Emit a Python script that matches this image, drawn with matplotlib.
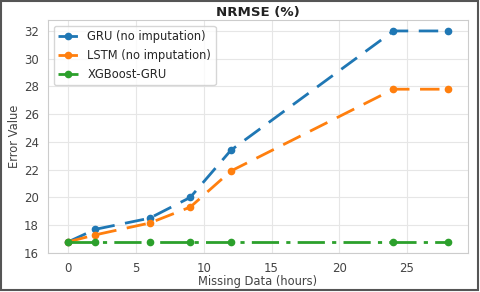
import matplotlib
matplotlib.use("Agg")
import matplotlib.pyplot as plt
import seaborn as sns

# ── Data ──────────────────────────────────────────────────────────────────────
missing_hours = [0, 2, 6, 9, 12, 24, 28]
gru_nrmse     = [16.8, 17.7, 18.5, 20.0, 23.4, 32.0, 32.0]
lstm_nrmse    = [16.8, 17.3, 18.15, 19.3, 21.9, 27.8, 27.8]
xgb_gru_nrmse = [16.8, 16.8, 16.8, 16.8, 16.8, 16.8, 16.8]
y_ticks       = [16, 18, 20, 22, 24, 26, 28, 30, 32]

sns.set_style("whitegrid")
plt.rcParams["font.family"] = ["DejaVu Sans"]

fig, ax = plt.subplots(figsize=(4.8, 2.92), dpi=100)
fig.subplots_adjust(left=0.1, right=0.975, top=0.932, bottom=0.134)

ax.plot(missing_hours, gru_nrmse, marker="o", color="#1f77b4",
        lw=2.0, ms=4.5, dashes=(7.0, 3.8), label="GRU (no imputation)")
ax.plot(missing_hours, lstm_nrmse, marker="o", color="#ff7f0e",
        lw=2.0, ms=4.5, dashes=(7.0, 3.8), label="LSTM (no imputation)")
ax.plot(missing_hours, xgb_gru_nrmse, marker="o", color="#2ca02c",
        lw=2.0, ms=4.5, dashes=(9.8, 2.6, 1.5, 2.6), label="XGBoost-GRU")

ax.set_yticks(y_ticks)
ax.set_ylim(16, 32.8)
ax.set_xlim(-1.5, 29.5)
ax.set_title("NRMSE (%)", fontsize=9.6, fontweight="bold", pad=2.5,
             color="#222222")
ax.set_xlabel("Missing Data (hours)", fontsize=8.3, color="#444444",
              labelpad=0)
ax.set_ylabel("Error Value", fontsize=8.3, color="#444444", labelpad=2)
ax.tick_params(labelsize=8.5, colors="#444444", pad=3)
ax.grid(color="#e6e6e6", lw=0.8)
for s in ax.spines.values():
    s.set_edgecolor("#cccccc")

ax.legend(loc="upper left", fontsize=8.3, frameon=True, handlelength=1.7)

# grey frame round the whole picture
fig.patches.append(plt.Rectangle((0.003, 0.007), 0.993, 0.988,
                                 transform=fig.transFigure, fill=False,
                                 edgecolor="#555555", lw=1.5))

fig.savefig("out.png", dpi=100)
